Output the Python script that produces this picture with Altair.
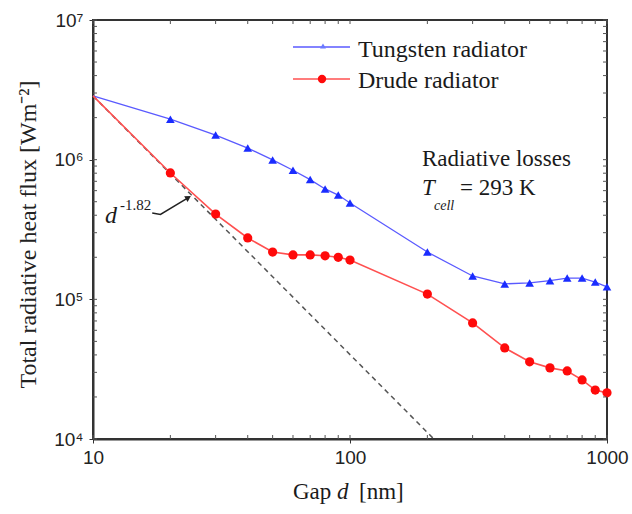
import altair as alt
import pandas as pd

# ---- data ----
gap = [10, 20, 30, 40, 50, 60, 70, 80, 90, 100, 200, 300, 400, 500, 600, 700, 800, 900, 1000]
tungsten = [2.86e6, 1.95e6, 1.50e6, 1.21e6, 9.96e5, 8.4e5, 7.2e5, 6.17e5, 5.58e5, 4.9e5,
            2.18e5, 1.47e5, 1.29e5, 1.31e5, 1.36e5, 1.42e5, 1.42e5, 1.33e5, 1.23e5]
drude = [2.86e6, 8.03e5, 4.08e5, 2.75e5, 2.18e5, 2.08e5, 2.08e5, 2.05e5, 2.0e5, 1.91e5,
         1.09e5, 6.78e4, 4.49e4, 3.57e4, 3.23e4, 3.07e4, 2.65e4, 2.24e4, 2.14e4]
fit_gap = [10, 212]
fit_flux = [2.86e6, 1.0e4]
arrow_gap = [17.0, 18.3, 23.5]
arrow_flux = [4.15e5, 4.05e5, 5.35e5]

x_major = [10, 100, 1000]
y_major = [1e4, 1e5, 1e6, 1e7]
x_minor = [20, 30, 40, 50, 60, 70, 80, 90, 200, 300, 400, 500, 600, 700, 800, 900]
y_minor = [m * 10 ** e for e in (4, 5, 6) for m in range(2, 10)]

serif = "'Liberation Serif', 'Times New Roman', serif"
sans = "'Liberation Sans', Arial, sans-serif"

df_t = pd.DataFrame({"gap": gap, "flux": tungsten})
df_d = pd.DataFrame({"gap": gap, "flux": drude})
df_fit = pd.DataFrame({"gap": fit_gap, "flux": fit_flux})
df_arrow = pd.DataFrame({"gap": arrow_gap, "flux": arrow_flux})
df_head = df_arrow.tail(1)
df_xt = pd.DataFrame({"gap": x_minor + x_major})
df_yt = pd.DataFrame({"flux": y_minor + y_major})
one = pd.DataFrame({"k": [0]})

xs = alt.Scale(type="log", domain=[10, 1000], nice=False)
ys = alt.Scale(type="log", domain=[1e4, 1e7], nice=False)

xaxis = alt.Axis(
    values=x_major, title=None, grid=False,
    labelExpr="datum.value==10?'10':datum.value==100?'100':'1000'",
    labelFont=sans, labelFontSize=19, labelColor="#222", labelPadding=5,
    tickSize=4, tickColor="#333", domainColor="#333", domainWidth=2,
    labelFlush=False, labelOverlap=False,
)
yaxis = alt.Axis(
    values=y_major, title="Total radiative heat flux [Wm⁻²]", grid=False,
    labelExpr="datum.value==1e4?'10⁴':datum.value==1e5?'10⁵':datum.value==1e6?'10⁶':'10⁷'",
    labelFont=sans, labelFontSize=19, labelColor="#222", labelPadding=6,
    tickSize=4, tickColor="#333", domainColor="#333", domainWidth=2,
    labelFlush=False, labelOverlap=False,
    titleFont=serif, titleFontSize=24, titleFontWeight="normal", titleColor="#222",
    titleX=-65, titleY=214, titleAngle=-90, titleAlign="center", titleBaseline="middle",
)

X = alt.X("gap:Q", scale=xs, axis=xaxis)
Y = alt.Y("flux:Q", scale=ys, axis=yaxis)

fit = alt.Chart(df_fit).mark_line(color="#555", strokeDash=[5, 4], strokeWidth=1.5, clip=True).encode(x=X, y=Y)
t_line = alt.Chart(df_t).mark_line(color="#5a5aff", strokeWidth=1.3).encode(x=X, y=Y)
d_line = alt.Chart(df_d).mark_line(color="#ff5050", strokeWidth=1.6).encode(x=X, y=Y)
t_pts = alt.Chart(df_t).transform_filter("datum.gap > 10").mark_point(
    shape="triangle-up", filled=True, size=75, color="#1a2cff", opacity=1).encode(x=X, y=Y)
d_pts = alt.Chart(df_d).transform_filter("datum.gap > 10").mark_circle(
    size=85, color="#ff0a0a", opacity=1).encode(x=X, y=Y)

# inward minor ticks on all four sides
tick_c = "#555"
t_bot = alt.Chart(df_xt).mark_rule(color=tick_c, strokeWidth=1).encode(x=X, y=alt.value(419), y2=alt.value(415))
t_top = alt.Chart(df_xt).mark_rule(color=tick_c, strokeWidth=1).encode(x=X, y=alt.value(0), y2=alt.value(4))
t_left = alt.Chart(df_yt).mark_rule(color=tick_c, strokeWidth=1).encode(y=Y, x=alt.value(0), x2=alt.value(4))
t_right = alt.Chart(df_yt).mark_rule(color=tick_c, strokeWidth=1).encode(y=Y, x=alt.value(514), x2=alt.value(510))

arrow = alt.Chart(df_arrow).mark_line(color="#222", strokeWidth=1.5).encode(x=X, y=Y)
head = alt.Chart(df_head).mark_point(shape="triangle-up", angle=59, filled=True, size=45,
                                     color="#222", opacity=1).encode(x=X, y=Y)


def txt(s, x, y, size=23, style="normal", font=serif, align="left"):
    return alt.Chart(one).mark_text(
        text=s, font=font, fontSize=size, fontStyle=style, color="#1a1a1a",
        align=align, baseline="alphabetic").encode(x=alt.value(x), y=alt.value(y))


# legend
leg_t_line = alt.Chart(one).mark_rule(color="#5a5aff", strokeWidth=1.3).encode(
    x=alt.value(200), x2=alt.value(257), y=alt.value(27))
leg_t_pt = alt.Chart(one).mark_point(shape="triangle-up", filled=True, size=35, color="#6a7aff",
                                     opacity=1).encode(x=alt.value(230), y=alt.value(26))
leg_d_line = alt.Chart(one).mark_rule(color="#ff5050", strokeWidth=1.6).encode(
    x=alt.value(200), x2=alt.value(257), y=alt.value(59))
leg_d_pt = alt.Chart(one).mark_circle(size=70, color="#ff0a0a", opacity=1).encode(
    x=alt.value(229), y=alt.value(59))

texts = [
    txt("Tungsten radiator", 265, 37, size=24),
    txt("Drude radiator", 265, 68, size=24),
    txt("Radiative losses", 329, 146),
    txt("T", 329, 175, style="italic"),
    txt("cell", 341, 190, size=14, style="italic"),
    txt("= 293 K", 367, 175),
    txt("d", 12, 203, size=24, style="italic"),
    txt("-1.82", 27, 190, size=15),
    txt("Gap", 200, 479),
    txt("d", 244, 479, style="italic"),
    txt("[nm]", 266, 479),
]

chart = alt.layer(
    fit, t_line, d_line, t_pts, d_pts, t_bot, t_top, t_left, t_right, arrow, head,
    leg_t_line, leg_t_pt, leg_d_line, leg_d_pt, *texts
).properties(
    width=514, height=419,
    autosize=alt.AutoSizeParams(type="none"),
    padding={"left": 93, "top": 20, "right": 25, "bottom": 75},
    background="white",
).configure_view(stroke="#333", strokeWidth=2)

chart.save("out.html", embed_options={"renderer": "svg", "actions": False})
